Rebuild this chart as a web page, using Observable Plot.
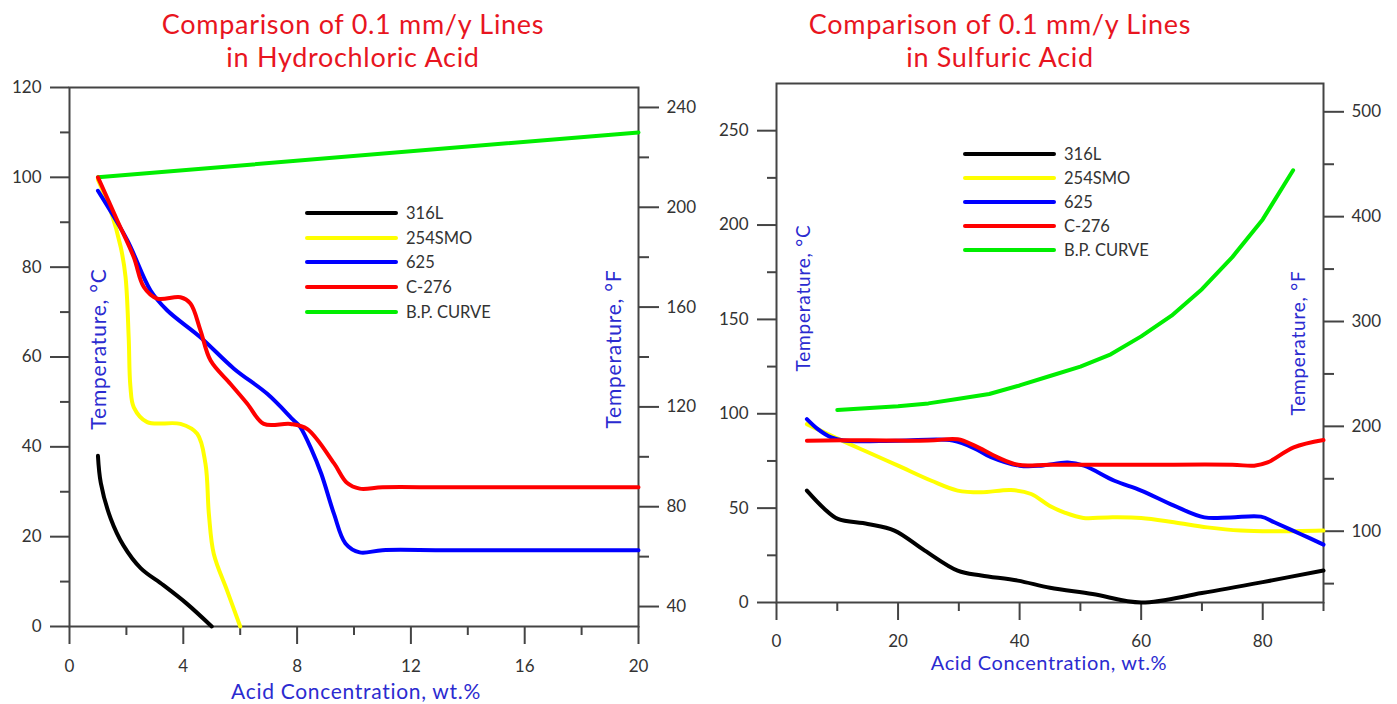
<!DOCTYPE html>
<html><head><meta charset="utf-8">
<script src="https://cdn.jsdelivr.net/npm/d3@7"></script>
<script src="https://cdn.jsdelivr.net/npm/@observablehq/plot@0.6"></script>
<style>
body{margin:0;background:#fff;font-family:Lato,sans-serif;}
#page{position:relative;width:1397px;height:704px;overflow:hidden;background:#fff;}
.chart{position:absolute;top:0;}
.title{position:absolute;top:7px;color:#e8151f;font-size:27px;letter-spacing:0.7px;text-align:center;line-height:33px;transform:translateX(-50%);white-space:nowrap;}
.alabel{position:absolute;color:#2b2bd0;white-space:nowrap;transform:translate(-50%,-50%);}
.vlabel{transform:translate(-50%,-50%) rotate(-90deg);}
.legend{position:absolute;font-size:16.5px;color:#333;}
.legend .row{display:flex;align-items:center;}
.legend .sw{display:inline-block;width:93px;height:4px;border-radius:2px;margin-right:8px;}
</style></head>
<body><div id="page"></div>
<script>
// ---------- shared ----------
const seriesNames = ["316L", "254SMO", "625", "C-276", "B.P. CURVE"];
const seriesColors = ["#000000", "#ffff00", "#0000ff", "#ff0000", "#00ee00"];

// ---------- Hydrochloric acid (x: wt.%, y: °C) ----------
const hcl316L = [[1,38],[1.1,32],[1.45,24],[1.9,18],[2.5,13],[3.3,9.2],[4.1,5.2],[5,0]];
const hcl254SMO = [[1,99.5],[1.45,92.5],[1.8,84.5],[1.97,77.8],[2.08,64.4],[2.14,53.5],[2.26,48.8],[2.73,45.5],[3.9,45.1],[4.49,42.9],[4.78,36.2],[4.9,25],[5.07,16.2],[5.54,8],[6,0]];
const hcl625 = [[1,97],[2.03,86],[2.85,74.8],[3.43,70.4],[4.6,64.4],[5.78,57.4],[6.95,51.8],[7.88,45.9],[8.1,44.5],[8.5,39.5],[8.85,34],[9.3,25],[9.7,18.5],[10.2,16.5],[11,17],[13,17],[15,17],[17,17],[20,17]];
const hclC276 = [[1,100],[1.68,90.4],[2.26,82.2],[2.61,75.6],[3.08,73],[3.9,73.3],[4.25,71.9],[4.6,66],[4.96,59.2],[5.66,54],[6.25,49.6],[6.83,45.1],[7.77,45.1],[8.35,44],[9.3,36.3],[9.75,32],[10.2,30.7],[11,31],[13,31],[15,31],[17,31],[20,31]];
const hclBP = [[1,100],[20,110]];
const hclXMajor = [0,4,8,12,16,20];
const hclXMinor = [2,6,10,14,18];
const hclYMajor = [0,20,40,60,80,100,120];
const hclYMinor = [10,30,50,70,90,110];
const hclFMajor = [40,80,120,160,200,240];
const hclFMinor = [60,100,140,180,220];

// ---------- Sulfuric acid (x: wt.%, y: °C) ----------
const h2so4316L = [[5,59.3],[7.9,49.6],[10.1,44.3],[15,41.6],[19.4,38.1],[24.4,27.5],[29.8,16.9],[33.7,14.3],[39.7,11.6],[45,7.8],[52,4.5],[60,0],[70,5],[80,10.8],[90,17]];
const h2so4254SMO = [[5,94.5],[9.6,87.5],[14.5,80.4],[20,72.5],[25.5,64.5],[29.8,59.3],[33.7,58.4],[38.6,59.6],[41.9,57.5],[44.9,51.3],[47.5,47.5],[50.5,44.8],[54.5,45.1],[60,44.8],[65.4,42.5],[70.9,39.8],[76.4,38.1],[81.9,37.7],[90,38.1]];
const h2so4625 = [[5,97.2],[6.8,91.9],[9,87.5],[11,85.8],[20,85.7],[29,85.8],[33,81],[35.3,77],[40,72.5],[43.5,72.5],[47.9,74.2],[50.6,72.5],[55.6,64.5],[60,59.3],[65.4,51.3],[70.4,45.1],[74.7,45.1],[79.7,45.5],[81.9,42.5],[86.2,36.3],[90,30.7]];
const h2so4C276 = [[5,85.7],[15,86],[25,85.8],[29.8,86.5],[32.6,83.1],[36.4,76.9],[39.7,73],[45,73],[60,73],[75,73],[78.6,72.5],[80.8,74.2],[85.1,82.2],[90,86.1]];
const h2so4BP = [[10,102],[20,104],[25,105.5],[30,108],[35,110.5],[40,115],[45,120],[50,125],[55,131.5],[60,141],[65,152],[70,166],[75,183],[80,203],[85,229]];
const h2so4XMajor = [0,20,40,60,80];
const h2so4XMinor = [10,30,50,70,90];
const h2so4YMajor = [0,50,100,150,200,250];
const h2so4YMinor = [25,75,125,175,225];
const h2so4FMajor = [100,200,300,400,500];
const h2so4FMinor = [50,150,250,350,450];

const fToC = f => (f - 32) / 1.8;
const cToF = c => c * 1.8 + 32;
const toRows = (name, pts) => pts.map(([x, y]) => ({name, x, y}));

const hclRows = [
  ...toRows("B.P. CURVE", hclBP), ...toRows("316L", hcl316L), ...toRows("254SMO", hcl254SMO),
  ...toRows("625", hcl625), ...toRows("C-276", hclC276)];
const h2so4Smooth = [
  ...toRows("316L", h2so4316L), ...toRows("254SMO", h2so4254SMO),
  ...toRows("625", h2so4625), ...toRows("C-276", h2so4C276)];
const h2so4BPRows = toRows("B.P. CURVE", h2so4BP);

const style = {fontFamily: "Lato, sans-serif", fontSize: "17px", color: "#333", background: "transparent", overflow: "visible"};
const ax = {stroke: "#444", fill: "#333", strokeWidth: 2, label: null};
const blank = () => "";

function axes(xMaj, xMin, yMaj, yMin, fMaj, fMin, xPad) {
  return [
    Plot.axisX({...ax, ticks: xMaj, tickSize: 18, tickPadding: xPad}),
    Plot.axisX({...ax, ticks: xMin, tickSize: 9, tickFormat: blank}),
    Plot.axisY({...ax, anchor: "left", ticks: yMaj, tickSize: 19, tickPadding: 9}),
    Plot.axisY({...ax, anchor: "left", ticks: yMin, tickSize: 9, tickFormat: blank}),
    Plot.axisY({...ax, anchor: "right", ticks: fMaj.map(fToC), tickSize: 20, tickPadding: 8, tickFormat: c => Math.round(cToF(c))}),
    Plot.axisY({...ax, anchor: "right", ticks: fMin.map(fToC), tickSize: 10, tickFormat: blank}),
    Plot.frame({stroke: "#444", strokeWidth: 2})
  ];
}

const color = {domain: seriesNames, range: seriesColors};

const left = Plot.plot({
  width: 690, height: 704, marginLeft: 69, marginRight: 52, marginTop: 87, marginBottom: 78,
  x: {domain: [0, 20]}, y: {domain: [0, 120]}, color, style,
  marks: [
    ...axes(hclXMajor, hclXMinor, hclYMajor, hclYMinor, hclFMajor, hclFMinor, 15),
    Plot.line(hclRows, {x: "x", y: "y", z: "name", stroke: "name", strokeWidth: 4, curve: "catmull-rom"})
  ]
});

const right = Plot.plot({
  width: 707, height: 704, marginLeft: 86, marginRight: 74, marginTop: 83, marginBottom: 102,
  x: {domain: [0, 90]}, y: {domain: [0, 275]}, color, style,
  marks: [
    ...axes(h2so4XMajor, h2so4XMinor, h2so4YMajor, h2so4YMinor, h2so4FMajor, h2so4FMinor, 14),
    Plot.line(h2so4BPRows, {x: "x", y: "y", stroke: "name", strokeWidth: 4}),
    Plot.line(h2so4Smooth, {x: "x", y: "y", z: "name", stroke: "name", strokeWidth: 4, curve: "catmull-rom"})
  ]
});

const page = document.getElementById("page");
function place(el, x) { el.classList.add("chart"); el.style.left = x + "px"; page.appendChild(el); }
place(left, 0);
place(right, 690);

function addDiv(cls, html, css) {
  const d = document.createElement("div");
  d.className = cls; d.innerHTML = html; Object.assign(d.style, css); page.appendChild(d); return d;
}
addDiv("title", "Comparison of 0.1 mm/y Lines<br>in Hydrochloric Acid", {left: "353px"});
addDiv("title", "Comparison of 0.1 mm/y Lines<br>in Sulfuric Acid", {left: "1000px"});

addDiv("alabel vlabel", "Temperature, °C", {left: "97px", top: "349px", fontSize: "21px", letterSpacing: "0.8px"});
addDiv("alabel vlabel", "Temperature, °F", {left: "612px", top: "349px", fontSize: "21px", letterSpacing: "0.8px"});
addDiv("alabel", "Acid Concentration, wt.%", {left: "356px", top: "690px", fontSize: "21px", letterSpacing: "0.7px"});
addDiv("alabel vlabel", "Temperature, °C", {left: "802px", top: "298px", fontSize: "19px", letterSpacing: "0.8px"});
addDiv("alabel vlabel", "Temperature, °F", {left: "1297px", top: "343px", fontSize: "19px", letterSpacing: "0.8px"});
addDiv("alabel", "Acid Concentration, wt.%", {left: "1049px", top: "662px", fontSize: "20px", letterSpacing: "0.6px"});

function legend(x, y, rowH) {
  const lg = addDiv("legend", "", {left: x + "px", top: y + "px"});
  seriesNames.forEach((n, i) => {
    const r = document.createElement("div");
    r.className = "row"; r.style.height = rowH + "px";
    r.innerHTML = `<span class="sw" style="background:${seriesColors[i]}"></span><span>${n}</span>`;
    lg.appendChild(r);
  });
}
legend(305, 200.6, 24.75);
legend(963, 142, 24);
</script>
</body></html>
